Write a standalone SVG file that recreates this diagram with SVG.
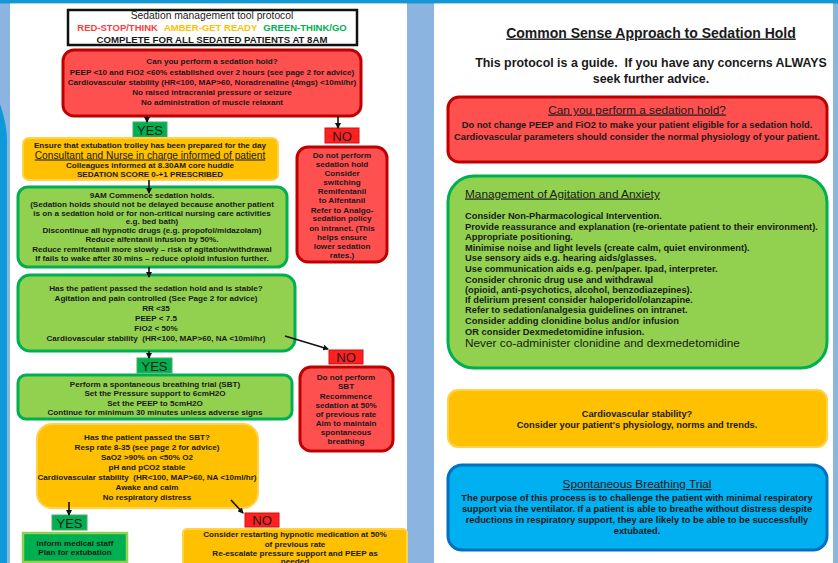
<svg xmlns="http://www.w3.org/2000/svg" width="838" height="563" viewBox="0 0 838 563">
<style>
text{font-family:"Liberation Sans",Arial,sans-serif;fill:#1a1a1a;text-anchor:middle}
.b{font-weight:bold;font-size:8.1px}
.bl{font-weight:bold;font-size:9.3px}
.u{text-decoration:underline}
.red{fill:#ff5050;stroke:#c00000;stroke-width:3}
.amb{fill:#ffc000;stroke:#ffd24a;stroke-width:2}
.grn{fill:#92d050;stroke:#00b050;stroke-width:3}
.blu{fill:#00b0f0;stroke:#0070c0;stroke-width:3}
.yes{fill:#00b050;stroke:#4fa86a;stroke-width:1}
.no{fill:#ff2020;stroke:#d01010;stroke-width:1}
.lbl{font-size:13px}
.con{stroke:#111;stroke-width:1.6;fill:none;marker-end:url(#ah)}
.l{text-anchor:start}
</style>
<defs>
<marker id="ah" markerWidth="6" markerHeight="6" refX="5" refY="3" orient="auto" markerUnits="userSpaceOnUse">
<path d="M0,0 L6,3 L0,6 z" fill="#111"/>
</marker>
</defs>
<!-- background -->
<rect x="0" y="0" width="838" height="563" fill="#8cb4e0"/>
<rect x="0" y="0" width="838" height="3.5" fill="#1597d5"/>
<path d="M0,104 C4,116 7,128 7,142 L7,563 L0,563 Z" fill="#0d9ad8"/>
<rect x="10" y="3.5" width="397" height="560" fill="#ffffff"/>
<rect x="434" y="3.5" width="399" height="560" fill="#ffffff"/>

<!-- LEFT PAGE -->
<g id="title">
<rect x="68" y="10" width="289" height="35" fill="#fff" stroke="#111" stroke-width="2.5"/>
<text x="212" y="18.5" style="font-size:10.3px">Sedation management tool protocol</text>
<text x="212" y="31" style="font-size:9.5px;font-weight:bold"><tspan style="fill:#ff3b3b">RED-STOP/THINK</tspan><tspan style="fill:#ffc000" dx="6">AMBER-GET READY</tspan><tspan style="fill:#00b050" dx="6">GREEN-THINK/GO</tspan></text>
<text x="212" y="42.5" style="font-size:9.6px;font-weight:bold">COMPLETE FOR ALL SEDATED PATIENTS AT 8AM</text>
</g>

<g id="q-hold">
<rect class="red" x="63" y="50" width="298" height="66" rx="11"/>
<text class="b" x="212" y="64">Can you perform a sedation hold?</text>
<text class="b" x="212" y="75">PEEP &lt;10 and FiO2 &lt;60% established over 2 hours (see page 2 for advice)</text>
<text class="b" x="212" y="85">Cardiovascular stability (HR&lt;100, MAP&gt;60, Noradrenaline (4mgs) &lt;10ml/hr)</text>
<text class="b" x="212" y="95">No raised intracranial pressure or seizure</text>
<text class="b" x="212" y="105">No administration of muscle relaxant</text>
</g>

<g id="yes1"><rect class="yes" x="133" y="122" width="34" height="15"/><text class="lbl" x="150" y="134.5">YES</text></g>
<g id="no1"><rect class="no" x="325" y="128" width="34" height="15"/><text class="lbl" x="342" y="140.5">NO</text></g>

<g id="prep">
<rect class="amb" x="23" y="138" width="255" height="42" rx="6"/>
<text class="b" x="150" y="148">Ensure that extubation trolley has been prepared for the day</text>
<text class="u" x="150" y="158.5" style="font-size:10.2px">Consultant and Nurse in charge informed of patient</text>
<text class="b" x="150" y="168">Colleagues informed at 8.30AM core huddle</text>
<text class="b" x="150" y="177">SEDATION SCORE 0-+1 PRESCRIBED</text>
</g>

<g id="commence">
<rect class="grn" x="18" y="187" width="269" height="80" rx="10"/>
<text class="b" x="152" y="197.5">9AM Commence sedation holds.</text>
<text class="b" x="152" y="206.5">(Sedation holds should not be delayed because another patient</text>
<text class="b" x="152" y="215.5">is on a sedation hold or for non-critical nursing care activities</text>
<text class="b" x="152" y="223.5">e.g. bed bath)</text>
<text class="b" x="152" y="233">Discontinue all hypnotic drugs (e.g. propofol/midazolam)</text>
<text class="b" x="152" y="241.5">Reduce alfentanil infusion by 50%.</text>
<text class="b" x="152" y="251.5">Reduce remifentanil more slowly – risk of agitation/withdrawal</text>
<text class="b" x="152" y="260.5">If fails to wake after 30 mins – reduce opioid infusion further.</text>
</g>

<g id="no-hold">
<rect class="red" x="297" y="147" width="90" height="115" rx="11"/>
<text class="b" x="342" y="158">Do not perform</text>
<text class="b" x="342" y="166.5">sedation hold</text>
<text class="b" x="342" y="176">Consider</text>
<text class="b" x="342" y="184.5">switching</text>
<text class="b" x="342" y="193.5">Remifentanil</text>
<text class="b" x="342" y="202.5">to Alfentanil</text>
<text class="b" x="342" y="212.5">Refer to Analgo-</text>
<text class="b" x="342" y="221">sedation policy</text>
<text class="b" x="342" y="230.5">on intranet. (This</text>
<text class="b" x="342" y="239.5">helps ensure</text>
<text class="b" x="342" y="248.5">lower sedation</text>
<text class="b" x="342" y="257.5">rates.)</text>
</g>

<g id="q-stable">
<rect class="grn" x="18" y="275" width="277" height="76" rx="12"/>
<text class="b" x="156" y="291">Has the patient passed the sedation hold and is stable?</text>
<text class="b" x="156" y="301">Agitation and pain controlled (See Page 2 for advice)</text>
<text class="b" x="156" y="311">RR &lt;35</text>
<text class="b" x="156" y="321">PEEP &lt; 7.5</text>
<text class="b" x="156" y="331">FiO2 &lt; 50%</text>
<text class="b" x="156" y="341" xml:space="preserve">Cardiovascular stability  (HR&lt;100, MAP&gt;60, NA &lt;10ml/hr)</text>
</g>

<g id="yes2"><rect class="yes" x="137" y="358" width="35" height="15"/><text class="lbl" x="154.5" y="370.5">YES</text></g>
<g id="no2"><rect class="no" x="329" y="350" width="34" height="14"/><text class="lbl" x="346" y="362">NO</text></g>

<g id="no-sbt">
<rect class="red" x="300" y="367" width="93" height="84" rx="11"/>
<text class="b" x="346" y="380">Do not perform</text>
<text class="b" x="346" y="389">SBT</text>
<text class="b" x="346" y="399">Recommence</text>
<text class="b" x="346" y="408">sedation at 50%</text>
<text class="b" x="346" y="417">of previous rate</text>
<text class="b" x="346" y="426">Aim to maintain</text>
<text class="b" x="346" y="435">spontaneous</text>
<text class="b" x="346" y="444">breathing</text>
</g>

<g id="sbt">
<rect class="grn" x="18" y="375" width="274" height="44" rx="8"/>
<text class="b" x="155" y="387">Perform a spontaneous breathing trial (SBT)</text>
<text class="b" x="155" y="396">Set the Pressure support to 6cmH2O</text>
<text class="b" x="155" y="405.5">Set the PEEP to 5cmH2O</text>
<text class="b" x="155" y="415">Continue for minimum 30 minutes unless adverse signs</text>
</g>

<g id="q-sbt">
<rect class="amb" x="37" y="424" width="221" height="84" rx="15"/>
<text class="b" x="147" y="440">Has the patient passed the SBT?</text>
<text class="b" x="147" y="450">Resp rate 8-35 (see page 2 for advice)</text>
<text class="b" x="147" y="460">SaO2 &gt;90% on &lt;50% O2</text>
<text class="b" x="147" y="470">pH and pCO2 stable</text>
<text class="b" x="147" y="480" xml:space="preserve">Cardiovascular stability  (HR&lt;100, MAP&gt;60, NA &lt;10ml/hr)</text>
<text class="b" x="147" y="490">Awake and calm</text>
<text class="b" x="147" y="500">No respiratory distress</text>
</g>

<g id="yes3"><rect class="yes" x="52" y="515" width="35" height="15"/><text class="lbl" x="69.5" y="527.5">YES</text></g>
<g id="no3"><rect class="no" x="245" y="513" width="34" height="14"/><text class="lbl" x="262" y="525">NO</text></g>

<g id="extubate">
<rect x="23" y="533" width="104" height="29" fill="#00b050" stroke="#92d050" stroke-width="2.5"/>
<text class="b" x="75" y="546">Inform medical staff</text>
<text class="b" x="75" y="555">Plan for extubation</text>
</g>

<g id="restart">
<rect class="amb" x="183" y="529" width="224" height="45" rx="4"/>
<text class="b" x="295" y="537">Consider restarting hypnotic medication at 50%</text>
<text class="b" x="295" y="546.5">of previous rate</text>
<text class="b" x="295" y="555.5">Re-escalate pressure support and PEEP as</text>
<text class="b" x="295" y="563.5">needed</text>
</g>

<g id="connectors">
<line class="con" x1="147" y1="116" x2="147" y2="122"/>
<line class="con" x1="338" y1="116" x2="338" y2="128"/>
<line class="con" x1="149" y1="180" x2="149" y2="193"/>
<line class="con" x1="149" y1="267" x2="149" y2="277"/>
<line class="con" x1="149" y1="351" x2="149" y2="358"/>
<line class="con" x1="285" y1="336" x2="328" y2="349"/>
<line class="con" x1="69" y1="502" x2="69" y2="515"/>
<line class="con" x1="231" y1="500" x2="243" y2="513"/>
</g>

<!-- RIGHT PAGE -->
<g id="rtitle">
<text class="u" x="651" y="37.5" style="font-size:14px;font-weight:bold">Common Sense Approach to Sedation Hold</text>
<text x="651" y="67" xml:space="preserve" style="font-size:12.4px;font-weight:bold">This protocol is a guide.  If you have any concerns ALWAYS</text>
<text x="651" y="82.5" style="font-size:12.4px;font-weight:bold">seek further advice.</text>
</g>

<g id="r-hold">
<rect class="red" x="448" y="97" width="379" height="65" rx="11"/>
<text class="u" x="637" y="113.5" style="font-size:11.8px">Can you perform a sedation hold?</text>
<text class="bl" x="637" y="128">Do not change PEEP and FiO2 to make your patient eligible for a sedation hold.</text>
<text class="bl" x="637" y="139.5">Cardiovascular parameters should consider the normal physiology of your patient.</text>
</g>

<g id="r-agitation">
<rect class="grn" x="448" y="176" width="379" height="192" rx="26"/>
<text class="u l" x="465" y="197.5" style="font-size:11.8px">Management of Agitation and Anxiety</text>
<text class="bl l" x="465" y="218.5">Consider Non-Pharmacological Intervention.</text>
<text class="bl l" x="465" y="229.5">Provide reassurance and explanation (re-orientate patient to their environment).</text>
<text class="bl l" x="465" y="240">Appropriate positioning.</text>
<text class="bl l" x="465" y="251">Minimise noise and light levels (create calm, quiet environment).</text>
<text class="bl l" x="465" y="261">Use sensory aids e.g. hearing aids/glasses.</text>
<text class="bl l" x="465" y="271.5">Use communication aids e.g. pen/paper. Ipad, interpreter.</text>
<text class="bl l" x="465" y="282.5">Consider chronic drug use and withdrawal</text>
<text class="bl l" x="465" y="292.5">(opioid, anti-psychotics, alcohol, benzodiazepines).</text>
<text class="bl l" x="465" y="302.5">If delirium present consider haloperidol/olanzapine.</text>
<text class="bl l" x="465" y="312.5">Refer to sedation/analgesia guidelines on intranet.</text>
<text class="bl l" x="465" y="323.5">Consider adding clonidine bolus and/or infusion</text>
<text class="bl l" x="465" y="335">OR consider Dexmedetomidine infusion.</text>
<text class="l" x="465" y="347" style="font-size:11.8px">Never co-administer clonidine and dexmedetomidine</text>
</g>

<g id="r-cardio">
<rect class="amb" x="448" y="390" width="379" height="57" rx="10"/>
<text class="bl" x="637" y="416.5">Cardiovascular stability?</text>
<text class="bl" x="637" y="427.5">Consider your patient's physiology, norms and trends.</text>
</g>

<g id="r-sbt">
<rect class="blu" x="448" y="465" width="379" height="85" rx="14"/>
<text class="u" x="637" y="488" style="font-size:11.8px">Spontaneous Breathing Trial</text>
<text class="bl" x="637" y="500.5">The purpose of this process is to challenge the patient with minimal respiratory</text>
<text class="bl" x="637" y="511.5">support via the ventilator. If a patient is able to breathe without distress despite</text>
<text class="bl" x="637" y="522.5">reductions in respiratory support, they are likely to be able to be successfully</text>
<text class="bl" x="637" y="534">extubated.</text>
</g>
</svg>
